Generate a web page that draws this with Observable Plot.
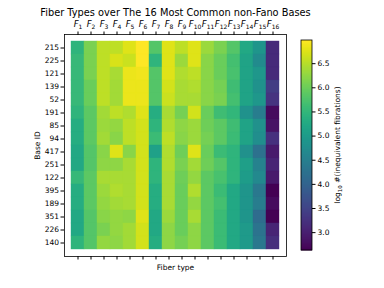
<!DOCTYPE html>
<html><head><meta charset="utf-8">
<script src="https://cdn.jsdelivr.net/npm/d3@7"></script>
<script src="https://cdn.jsdelivr.net/npm/@observablehq/plot@0.6"></script>
<style>
body{margin:0;background:#fff}
svg{font-family:"DejaVu Sans",sans-serif}
</style>
</head><body><div id="chart"></div>
<script>
const title = "Fiber Types over The 16 Most Common non-Fano Bases";
const fiberTypes = ["1","2","3","4","5","6","7","8","9","10","11","12","13","14","15","16"];
const baseIds = ["215","225","121","139","52","191","85","94","417","251","122","395","189","351","226","140"];
const colorTicks = [3.0, 3.5, 4.0, 4.5, 5.0, 5.5, 6.0, 6.5];
const colorDomain = [2.63, 6.98];

const r215 = [5.46,6.11,6.55,6.55,6.76,6.98,5.81,6.76,6.55,6.76,6.33,6.11,5.81,5.24,4.89,3.15];
const r225 = [5.54,6.11,6.55,6.72,6.63,6.98,5.46,6.76,6.33,6.76,6.20,5.98,5.68,5.15,4.72,3.15];
const r121 = [5.54,6.11,6.55,6.41,6.85,6.89,5.81,6.76,6.46,6.55,6.20,5.98,5.72,5.15,4.94,3.15];
const r139 = [5.54,5.98,6.55,6.37,6.85,6.85,5.81,6.68,6.41,6.46,6.20,6.07,5.63,5.15,4.85,3.41];
const r52  = [5.54,5.98,6.55,6.37,6.85,6.85,5.81,6.63,6.41,6.41,6.20,6.11,5.68,5.15,4.94,3.28];
const r191 = [5.46,5.89,6.37,6.55,6.46,6.76,5.33,6.41,6.07,6.68,5.98,5.63,5.50,4.85,4.46,2.76];
const r85  = [5.33,5.89,6.33,6.28,6.55,6.68,5.46,6.46,6.24,6.33,6.02,5.89,5.63,5.15,4.81,2.85];
const r94  = [5.33,5.89,6.37,6.20,6.55,6.68,5.59,6.55,6.20,6.33,6.07,5.89,5.59,5.15,4.76,3.24];
const r417 = [5.24,5.81,6.20,6.76,6.20,6.68,5.11,6.46,6.02,6.76,5.98,5.59,5.46,4.81,4.24,2.93];
const r251 = [5.24,5.81,6.24,6.24,6.41,6.68,5.46,6.46,6.11,6.37,6.02,5.81,5.46,5.07,4.54,3.07];
const r122 = [5.54,5.89,6.41,6.41,6.41,6.68,5.46,6.41,6.02,6.28,5.89,5.72,5.46,5.02,4.67,2.93];
const r395 = [5.33,5.89,6.33,6.46,6.41,6.68,5.33,6.41,5.98,6.46,5.89,5.59,5.24,4.89,4.37,2.63];
const r189 = [5.33,5.89,6.28,6.37,6.41,6.68,5.33,6.41,5.98,6.28,5.89,5.68,5.24,4.89,4.46,2.76];
const r351 = [5.24,5.81,6.20,6.28,6.24,6.76,5.24,6.33,5.98,6.41,5.89,5.59,5.24,4.89,4.15,2.63];
const r226 = [5.24,5.81,6.11,6.28,6.37,6.68,5.24,6.24,5.98,6.24,5.89,5.59,5.24,4.98,4.28,3.07];
const r140 = [5.46,5.81,6.28,6.24,6.37,6.68,5.33,6.24,6.07,6.24,5.89,5.59,5.24,4.98,4.37,3.20];
const rows = [r215,r225,r121,r139,r52,r191,r85,r94,r417,r251,r122,r395,r189,r351,r226,r140];

const data = baseIds.flatMap((b, i) => fiberTypes.map((f, j) => ({base: b, fiber: f, value: rows[i][j]})));

const W = 384, H = 288, mL = 64, mR = 98, mT = 34, mB = 32;

const plot = Plot.plot({
  width: W, height: H,
  marginLeft: mL, marginRight: mR, marginTop: mT, marginBottom: mB,
  style: {fontFamily: "DejaVu Sans, sans-serif", fontSize: "7.5px", background: "white", color: "#000"},
  x: {domain: fiberTypes, padding: 0},
  y: {domain: baseIds, padding: 0},
  color: {type: "linear", scheme: "viridis", domain: colorDomain},
  marks: [
    Plot.cell(data, {x: "fiber", y: "base", fill: "value", stroke: "value", strokeWidth: 0.4, inset: 0}),
    Plot.frame({stroke: "#000", strokeWidth: 0.8}),
    Plot.axisX({anchor: "top", tickSize: 3.5, tickPadding: 4, label: null, tickFormat: d => "F" + d}),
    Plot.axisX({anchor: "bottom", tickSize: 3.5, tickFormat: () => "", label: "Fiber type", labelAnchor: "center", labelOffset: 13}),
    Plot.axisY({anchor: "left", tickSize: 3.5, tickPadding: 2, label: "Base ID", labelAnchor: "center", labelOffset: 30}),
    Plot.text([title], {frameAnchor: "top", dy: -25, fontSize: 9.8, text: d => d, fill: "#000"})
  ]
});

const svg = d3.select(plot);

// subscripts on fiber-type tick labels
svg.selectAll("[aria-label='x-axis tick label'] text").each(function() {
  const t = d3.select(this);
  const s = t.text();
  if (s.startsWith("F")) {
    t.text("");
    t.append("tspan").attr("font-style", "italic").attr("font-size", "8.5px").text("F");
    t.append("tspan").attr("font-size", "6px").attr("dy", "2").text(s.slice(1));
  }
});

// colorbar
const cs = plot.scale("color");
const cbX = 301, cbW = 11, cbTop = 40, cbBot = 250;
const cy = d3.scaleLinear().domain(colorDomain).range([cbBot, cbTop]);
const color = d3.scaleSequential(d3.interpolateViridis).domain(cs.domain);
const g = svg.append("g");
const steps = 210;
for (let i = 0; i < steps; i++) {
  const v0 = colorDomain[0] + (colorDomain[1] - colorDomain[0]) * i / steps;
  const v1 = colorDomain[0] + (colorDomain[1] - colorDomain[0]) * (i + 1) / steps;
  g.append("rect").attr("x", cbX).attr("width", cbW)
    .attr("y", cy(v1)).attr("height", cy(v0) - cy(v1) + 0.5)
    .attr("fill", color((v0 + v1) / 2));
}
g.append("rect").attr("x", cbX).attr("y", cbTop).attr("width", cbW).attr("height", cbBot - cbTop)
  .attr("fill", "none").attr("stroke", "#000").attr("stroke-width", 0.8);
const ax = svg.append("g").attr("transform", `translate(${cbX + cbW},0)`)
  .call(d3.axisRight(cy).tickValues(colorTicks).tickFormat(d3.format(".1f")).tickSize(3.5).tickPadding(2));
ax.select(".domain").remove();
ax.selectAll("text").attr("font-size", "7.5px").attr("font-family", "DejaVu Sans, sans-serif");
const lab = svg.append("text")
  .attr("transform", `translate(340,${(cbTop + cbBot) / 2}) rotate(-90)`)
  .attr("text-anchor", "middle").attr("font-size", "7.5px").attr("fill", "#000");
lab.append("tspan").text("log");
lab.append("tspan").attr("font-size", "5.5px").attr("dy", "2").text("10");
lab.append("tspan").attr("dy", "-2").text(" #(inequivalent fibrations)");

document.getElementById("chart").appendChild(plot);
</script>
</body></html>
